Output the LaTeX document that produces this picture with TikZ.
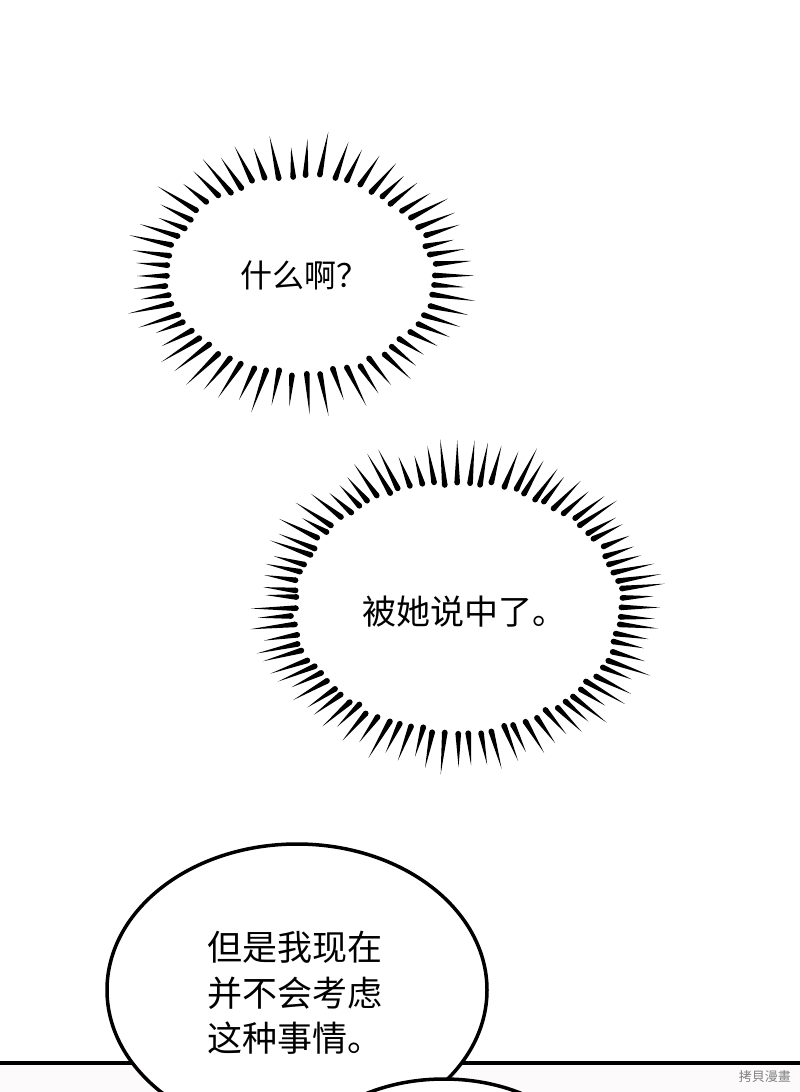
\documentclass[tikz,border=0pt]{standalone}
\usepackage{fontspec}
\newfontfamily\cjk{Noto Sans CJK SC}
\newfontfamily\cjktc{Noto Sans CJK TC}
\definecolor{paper}{RGB}{252,250,251}
\newcommand{\burst}[6]{%
  \pgfmathsetseed{#6}%
  \foreach \k in {1,...,#5}{%
    \pgfmathsetmacro\ang{(360/#5)*\k+0.6*rand}%
    \pgfmathsetmacro\ex{#3*cos(\ang)}%
    \pgfmathsetmacro\ey{#4*sin(\ang)}%
    \pgfmathsetmacro\el{veclen(\ex/100,\ey/100)}%
    \pgfmathsetmacro\nx{\ex/100/\el}%
    \pgfmathsetmacro\ny{\ey/100/\el}%
    \pgfmathsetmacro\jit{3*rand}%
    \pgfmathsetmacro\len{28+18*rnd}%
    \pgfmathsetmacro\px{#1+\ex+\jit*\nx}%
    \pgfmathsetmacro\py{#2+\ey+\jit*\ny}%
    \pgfmathsetmacro\tx{\px+\len*\nx}%
    \pgfmathsetmacro\ty{\py+\len*\ny}%
    \pgfmathsetmacro\ax{\px+2.8*\ny}%
    \pgfmathsetmacro\ay{\py-2.8*\nx}%
    \pgfmathsetmacro\bx{\px-2.8*\ny}%
    \pgfmathsetmacro\by{\py+2.8*\nx}%
    \fill (\ax,\ay) -- (\tx,\ty) -- (\bx,\by) -- cycle;
    \fill (\px,\py) circle (2.8pt);
  }}
\begin{document}
\begin{tikzpicture}[x=1pt,y=-1pt,
    say/.style={inner sep=0pt,font=\cjk\fontsize{#1}{#1}\selectfont},
    bubble/.style={draw,fill=white,line width=3.5pt}]
  \useasboundingbox (0,0) rectangle (800,1092);
  \fill[white] (0,0) rectangle (800,1092);
  \fill[paper] (0,1063) rectangle (800,1092);
  \burst{300}{275}{134}{99}{62}{7}
  \burst{457}{607}{164}{125}{88}{11}
  \node[say=32,anchor=west] (what) at (240,275) {什么啊？};
  \node[say=34,anchor=west] (guessed) at (362,612) {被她说中了。};
  \coordinate (rimL) at (0,1063);
  \coordinate (rimR) at (800,1063);
  \draw[line width=3.5pt] (rimL) -- (rimR);
  \begin{scope}
    \clip (0,0) rectangle (800,1092);
    \draw[bubble] (297,990) ellipse (190pt and 146pt);
    \draw[bubble] (444,1180) ellipse (150pt and 101pt);
  \end{scope}
  \node[say=35,anchor=north west,align=left,font=\cjk\fontsize{35}{45.5}\selectfont] (answer) at (207,931) {但是我现在\\并不会考虑\\这种事情。};
  \node[inner sep=0pt,anchor=east,text=gray,font=\cjktc\fontsize{13}{13}\selectfont] (mark) at (791,1077) {拷貝漫畫};
\end{tikzpicture}
\end{document}
